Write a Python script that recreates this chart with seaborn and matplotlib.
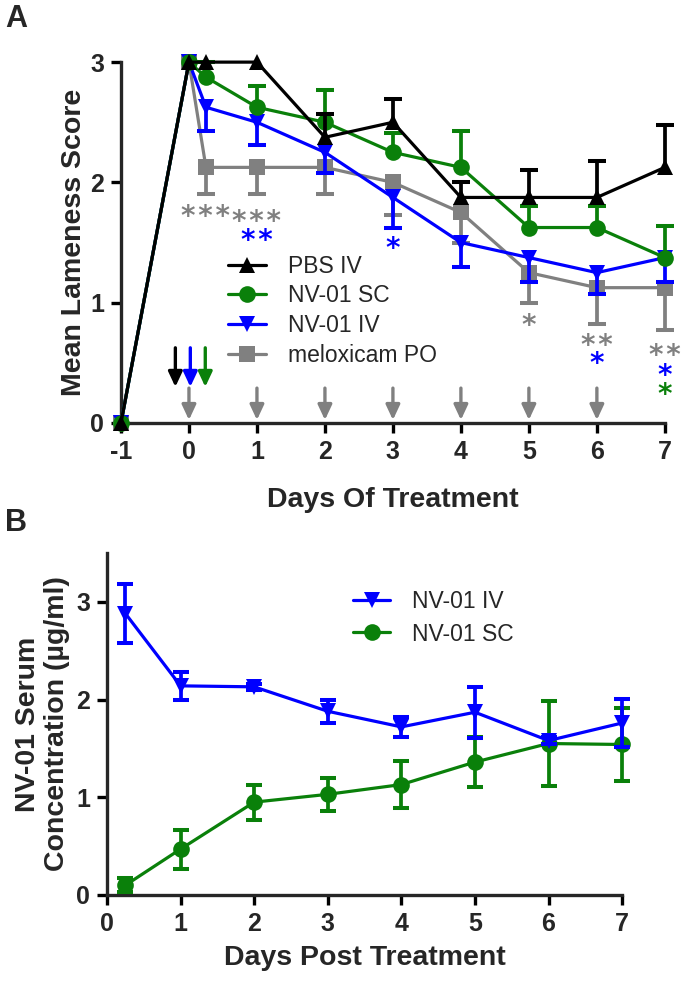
import numpy as np
import pandas as pd
import seaborn as sns
import matplotlib.pyplot as plt

# panel A - lameness scores
days_a = [-1, 0, 0.25, 1, 2, 3, 4, 5, 6, 7]
pbs_iv = [0, 3, 3, 3, 2.375, 2.5, 1.875, 1.875, 1.875, 2.125]
pbs_iv_sem = [0, 0, 0, 0, 0.19, 0.19, 0.125, 0.23, 0.3, 0.35]
nv_sc = [0, 3, 2.875, 2.625, 2.5, 2.25, 2.125, 1.625, 1.625, 1.375]
nv_sc_sem = [0, 0, 0.125, 0.18, 0.27, 0.16, 0.3, 0.18, 0.18, 0.26]
nv_iv = [0, 3, 2.625, 2.5, 2.25, 1.875, 1.5, 1.375, 1.25, 1.375]
nv_iv_sem = [0, 0, 0.2, 0.19, 0.17, 0.25, 0.2, 0.2, 0.18, 0.2]
melox = [0, 3, 2.125, 2.125, 2.125, 2.0, 1.75, 1.25, 1.125, 1.125]
melox_sem = [0, 0, 0.22, 0.22, 0.22, 0.27, 0.25, 0.25, 0.3, 0.35]

# significance marks
star_days = [0.25, 1, 1, 3, 5, 6, 6, 7, 7, 7]
star_levels = [1.78, 1.74, 1.58, 1.52, 0.875, 0.71, 0.56, 0.625, 0.46, 0.3]
star_texts = ['***', '***', '**', '*', '*', '**', '*', '**', '*', '*']
star_groups = ['melox', 'melox', 'iv', 'iv', 'melox', 'melox', 'iv', 'melox', 'iv', 'sc']

# dosing arrows
melox_dose_days = [0, 1, 2, 3, 4, 5, 6]
single_dose_days = [-0.2, 0.02, 0.24]
single_dose_groups = ['pbs', 'iv', 'sc']

# panel B - serum concentration
days_b = [0.25, 1, 2, 3, 4, 5, 6, 7]
serum_iv = [2.88, 2.14, 2.13, 1.88, 1.72, 1.87, 1.58, 1.76]
serum_iv_sem = [0.3, 0.14, 0.03, 0.12, 0.1, 0.26, 0.04, 0.25]
serum_sc = [0.1, 0.47, 0.95, 1.03, 1.13, 1.36, 1.55, 1.54]
serum_sc_sem = [0.07, 0.2, 0.18, 0.17, 0.24, 0.26, 0.43, 0.37]

colors = {'pbs': 'black', 'sc': '#0a800a', 'iv': '#0000ff', 'melox': '#808080'}

sns.set_style('ticks')
plt.rcParams['font.family'] = ['Liberation Sans', 'DejaVu Sans']
plt.rcParams['axes.unicode_minus'] = False

fig = plt.figure(figsize=(6.85, 9.86), dpi=100)
ax_a = fig.add_axes([0.1766, 0.571, 0.794, 0.366])
ax_b = fig.add_axes([0.1562, 0.0923, 0.752, 0.3469])

LW = 2.3
series_a = [
    ('meloxicam PO', melox, melox_sem, 'melox', 's', 11, -1),
    ('NV-01 IV', nv_iv, nv_iv_sem, 'iv', 'v', 12, -1),
    ('NV-01 SC', nv_sc, nv_sc_sem, 'sc', 'o', 12, 1),
    ('PBS IV', pbs_iv, pbs_iv_sem, 'pbs', '^', 12, 1),
]
x_a = np.array(days_a)
for i, (name, vals, sem, key, mk, ms, side) in enumerate(series_a):
    y = np.array(vals)
    e = np.array(sem)
    keep = e > 0
    end = y + side * e
    z = 3 + 2 * i
    ax_a.vlines(x_a[keep], y[keep], end[keep], color=colors[key], lw=LW + 0.4,
                zorder=z, clip_on=False)
    ax_a.plot(x_a[keep], end[keep], ls='none', marker='_', ms=13, mew=LW + 0.6,
              color=colors[key], zorder=z, clip_on=False)
    sns.lineplot(x=x_a, y=y, ax=ax_a, color=colors[key], marker=mk, markersize=ms,
                 markeredgewidth=0, linewidth=LW, label=name, zorder=z + 1,
                 clip_on=False, estimator=None)

for d, lvl, txt, g in zip(star_days, star_levels, star_texts, star_groups):
    ax_a.text(d, lvl - 0.07, '\u200a'.join(txt), color=colors[g], fontsize=20,
              family='DejaVu Sans', fontweight='bold', ha='center', va='center',
              zorder=20)

arrow = dict(arrowstyle='-|>,head_width=0.42,head_length=0.9', lw=2.4,
             shrinkA=0, shrinkB=0, mutation_scale=10)
for d in melox_dose_days:
    ax_a.annotate('', xy=(d, 0.025), xytext=(d, 0.29),
                  arrowprops=dict(arrow, color=colors['melox']), zorder=1)
for d, g in zip(single_dose_days, single_dose_groups):
    ax_a.annotate('', xy=(d, 0.3), xytext=(d, 0.625),
                  arrowprops=dict(arrow, color=colors[g]), zorder=1)

ax_a.set_xlim(-1, 7)
ax_a.set_ylim(0, 3)
ax_a.set_xticks(range(-1, 8))
ax_a.set_yticks([0, 1, 2, 3])
ax_a.set_xlabel('Days Of Treatment', fontsize=20.5, fontweight='bold')
ax_a.set_ylabel('Mean Lameness Score', fontsize=20.5, fontweight='bold')
ax_a.xaxis.set_label_coords(0.5, -0.177)
ax_a.yaxis.set_label_coords(-0.063, 0.5)

handles, labels = ax_a.get_legend_handles_labels()
order = [3, 2, 1, 0]
ax_a.legend([handles[k] for k in order], [labels[k] for k in order],
            loc='upper left', bbox_to_anchor=(0.197, 0.466), frameon=False,
            fontsize=16.5, handlelength=1.66, handletextpad=0.96,
            labelspacing=0.29, borderpad=0, borderaxespad=0)

# panel B
series_b = [
    ('NV-01 SC', serum_sc, serum_sc_sem, 'sc', 'o', 12),
    ('NV-01 IV', serum_iv, serum_iv_sem, 'iv', 'v', 12),
]
for i, (name, vals, sem, key, mk, ms) in enumerate(series_b):
    z = 3 + 2 * i
    ax_b.errorbar(days_b, vals, yerr=sem, fmt='none', ecolor=colors[key],
                  elinewidth=LW + 0.4, capsize=6, capthick=LW + 0.6, zorder=z,
                  clip_on=False)
    sns.lineplot(x=days_b, y=vals, ax=ax_b, color=colors[key], marker=mk,
                 markersize=ms, markeredgewidth=0, linewidth=LW, label=name,
                 zorder=z + 1, clip_on=False, estimator=None)

ax_b.set_xlim(0, 7)
ax_b.set_ylim(0, 3.5)
ax_b.set_xticks(range(0, 8))
ax_b.set_yticks([0, 1, 2, 3])
ax_b.set_xlabel('Days Post Treatment', fontsize=20.5, fontweight='bold')
ax_b.set_ylabel('NV-01 Serum\nConcentration (\u00b5g/ml)', fontsize=20.5,
                fontweight='bold', linespacing=1.15)
ax_b.xaxis.set_label_coords(0.5, -0.146)
ax_b.yaxis.set_label_coords(-0.072, 0.5)

handles, labels = ax_b.get_legend_handles_labels()
ax_b.legend(handles[::-1], labels[::-1], loc='upper left',
            bbox_to_anchor=(0.478, 0.892), frameon=False, fontsize=16.5,
            handlelength=1.6, handletextpad=0.96, labelspacing=0.42,
            borderpad=0, borderaxespad=0)

for ax in (ax_a, ax_b):
    sns.despine(ax=ax)
    for s in ('left', 'bottom'):
        ax.spines[s].set_linewidth(2.4)
    ax.tick_params(width=2.4, length=7, labelsize=18, pad=5, color='black')
    for t in ax.get_xticklabels() + ax.get_yticklabels():
        t.set_fontweight('bold')

fig.text(0.007, 0.9956, 'A', fontsize=22, fontweight='bold', va='top')
fig.text(0.007, 0.485, 'B', fontsize=22, fontweight='bold', va='top')

fig.savefig('out.png', dpi=100)
